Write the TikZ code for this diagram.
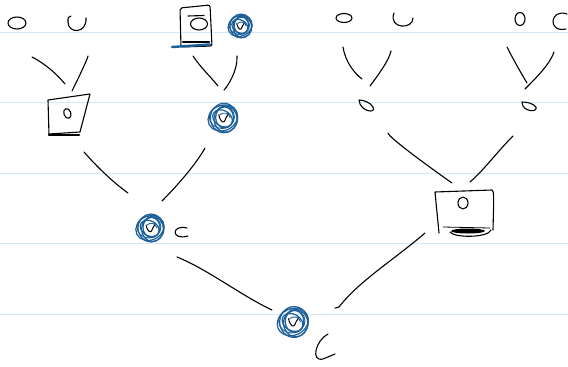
\documentclass[tikz,border=0pt]{standalone}
\usetikzlibrary{calc}
\definecolor{rulec}{HTML}{D2E9F8}
\definecolor{bpen}{HTML}{1A5E9A}
\tikzset{
  pen/.style={draw=black, line width=1.1pt, line cap=round, line join=round},
  bp/.style={draw=bpen, line width=1.2pt},
  ruled/.style={draw=rulec, line width=0.9pt},
  blob/.pic={
    \draw[pen, line width=1pt] (-5pt,3pt) .. controls (-3pt,-5pt) and (0pt,-5pt) .. (1pt,-2pt) .. controls (2pt,2pt) and (5pt,3pt) .. (4pt,5pt);
    \draw[bp] (0,0) ellipse (13pt and 14pt);
    \draw[bp] (1.5pt,-1pt) ellipse (11pt and 12.5pt);
    \draw[bp, rotate=25] (-1pt,0.5pt) ellipse (14.5pt and 12pt);
    \draw[bp] (0.5pt,0.5pt) ellipse (8.5pt and 10pt);
    \draw[bp, rotate=-30] (-1pt,-1pt) ellipse (10pt and 7.5pt);
    \draw[bp, line width=0.9pt] (-2pt,1pt) ellipse (12pt and 11pt);
    \draw[bp, line width=0.9pt] (-4pt,3pt) .. controls (-1pt,6pt) and (5pt,5pt) .. (6pt,0pt);
  }
}
\begin{document}
\begin{tikzpicture}[x=1pt,y=-1pt]
\useasboundingbox (0,0) rectangle (568,367);
\clip (0,0) rectangle (568,367);
\fill[white] (0,0) rectangle (568,367);
% ruled paper
\foreach \yy in {32,102.5,173,243,314.5} \draw[ruled] (0,\yy) -- (568,\yy);

% node positions
\coordinate (a1) at (17,23);
\coordinate (a2) at (77,24);
\coordinate (a3) at (196,26);
\coordinate (a4) at (241,26);
\coordinate (a5) at (344,18);
\coordinate (a6) at (403,19);
\coordinate (a7) at (520,19);
\coordinate (a8) at (560,21);
\coordinate (b1) at (69,115);
\coordinate (b2) at (224,118);
\coordinate (b3) at (367,106);
\coordinate (b4) at (529,107);
\coordinate (c1) at (151,228);
\coordinate (c2) at (464,212);
\coordinate (r) at (294,322);

% leaves
\draw[pen] (a1) ellipse (9pt and 6pt);
\draw[pen] (71,16) .. controls (68,17) .. (68,22) .. controls (68,34) and (87,34) .. (86,18);
\begin{scope}[shift={(a3)}]
  \draw[pen, rounded corners=2pt] (-16,-18) -- (14,-21) -- (16,20) -- (-15,21) -- cycle;
  \draw[pen] (-8,-10) -- (8,-10.5);
  \draw[pen] (3,-2) ellipse (8.5pt and 6pt);
  \draw[pen, line width=2.6pt] (-13,16) -- (13,16);
  \draw[draw=bpen, line width=2.4pt, line cap=round] (-24,21) -- (14,18.5);
\end{scope}
\pic at (a4) [scale=0.85] {blob};
\draw[pen] (a5) ellipse (8pt and 4.5pt);
\draw[pen] (394,13) .. controls (388,29) and (413,30) .. (413,18);
\draw[pen] (a7) ellipse (5pt and 6.5pt);
\draw[pen] (567,14) .. controls (550,8) and (547,33) .. (566,29);

% level 2
\begin{scope}[shift={(b1)}]
  \draw[pen] (-20,20) -- (-21,-15) -- (21,-21) -- (11,17) -- (-20,19);
  \draw[pen, rotate=20] (-1,-2) ellipse (3.5pt and 5pt);
  \draw[pen, line width=2.6pt] (-20,20) -- (10,20);
\end{scope}
\pic at (b2) [scale=1.05] {blob};
\draw[pen] (359,100) .. controls (360,112) and (377,114) .. (373,107) .. controls (370,102) and (363,100) .. (359,100);
\draw[pen] (522,102) .. controls (522,112) and (538,113) .. (536,107) .. controls (533,103) and (526,102) .. (522,102);

% level 3
\pic at (c1) [scale=1.0] {blob};
\draw[pen] (187,228) .. controls (171,224) and (171,241) .. (188,236);
\begin{scope}[shift={(c2)}]
  \draw[pen] (-25,21) .. controls (-27,0) .. (-29,-20) -- (28,-22) .. controls (30,-20) .. (29,18);
  \draw[pen, line width=0.8pt] (-21,15) -- (26,16);
  \draw[pen] (-1,-9) ellipse (5pt and 6pt);
  \fill[black] (4,19) ellipse (17pt and 2.5pt);
  \draw[pen] (-14,20) .. controls (-10,26) and (24,26) .. (27,18);
\end{scope}

% root
\pic at (r) [scale=1.1] {blob};
\draw[pen] (328,334) .. controls (316,340) and (310,362) .. (323,359) -- (335,354);

% connectors
\draw[pen] ($(a1)+(15,34)$) .. controls +(12,6) and +(-8,-10) .. ($(b1)+(-4,-31)$);
\draw[pen] ($(a2)+(11,32)$) .. controls +(0,2) and +(6,-12) .. ($(b1)+(3,-24)$);
\draw[pen] ($(a3)+(-3,30)$) .. controls +(8,12) and +(-8,-10) .. ($(b2)+(-6,-32)$);
\draw[pen] ($(a4)+(-4,30)$) .. controls +(1,14) and +(4,-4) .. ($(b2)+(0,-28)$);
\draw[pen] ($(a5)+(-1,29)$) .. controls +(2,14) and +(-8,-6) .. ($(b3)+(-5,-27)$);
\draw[pen] ($(a6)+(-12,32)$) .. controls +(-2,10) and +(6,-8) .. ($(b3)+(3,-20)$);
\draw[pen] ($(a7)+(-13,28)$) .. controls +(6,12) and +(-6,-10) .. ($(b4)+(-2,-24)$);
\draw[pen] ($(a8)+(-6,31)$) .. controls +(-4,12) and +(12,-12) .. ($(b4)+(-4,-18)$);
\draw[pen] ($(b1)+(15,37)$) .. controls +(14,16) and +(-14,-10) .. ($(c1)+(-23,-35)$);
\draw[pen] ($(b2)+(-19,30)$) .. controls +(-10,18) and +(12,-12) .. ($(c1)+(11,-27)$);
\draw[pen] ($(b3)+(21,27)$) .. controls +(0,4) and +(-20,-14) .. ($(c2)+(-12,-29)$);
\draw[pen] ($(b4)+(-16,29)$) .. controls +(-16,16) and +(14,-12) .. ($(c2)+(6,-30)$);
\draw[pen] ($(c1)+(26,29)$) .. controls +(30,12) and +(-30,-14) .. ($(r)+(-22,-12)$);
\draw[pen] ($(c2)+(-39,21)$) .. controls +(-30,26) and +(20,-26) .. ($(r)+(45,-15)$) -- ($(r)+(41,-14)$);
\end{tikzpicture}
\end{document}
